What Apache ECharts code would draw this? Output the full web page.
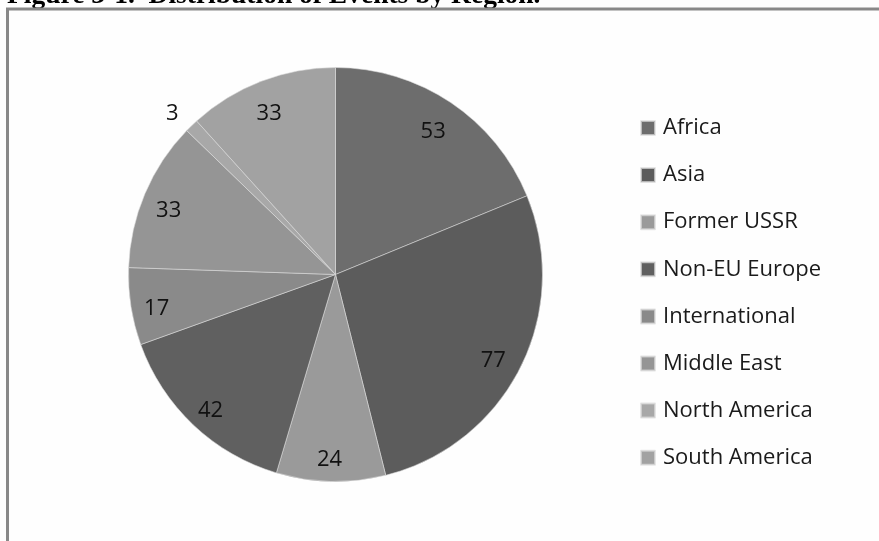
<!DOCTYPE html>
<html>
<head>
<meta charset="utf-8">
<script src="https://cdn.jsdelivr.net/npm/echarts@6/dist/echarts.min.js"></script>
<style>
html,body{margin:0;padding:0;background:#fefefe;}
#c{width:879px;height:541px;}
</style>
</head>
<body>
<div id="c"></div>
<script>
var categories = ['Africa','Asia','Former USSR','Non-EU Europe','International','Middle East','North America','South America'];
var values = [53, 77, 24, 42, 17, 33, 3, 33];
var colors = ['#6d6d6d','#5c5c5c','#9a9a9a','#606060','#8a8a8a','#959595','#a8a8a8','#a2a2a2'];
var titleText = 'Figure 3-1.  Distribution of Events by Region.';
var outsideLabelCats = ['North America'];

var chart = echarts.init(document.getElementById('c'), null, {renderer:'canvas'});
var cx = 335.5, cy = 274.5, R = 207;
var fontFam = '"Open Sans", "Noto Sans", sans-serif';

var mainData = categories.map(function(n,i){ return {name:n, value:values[i], itemStyle:{color:colors[i]}}; });
var insideData = categories.map(function(n,i){ return {name:n, value:values[i], label:{show: outsideLabelCats.indexOf(n) < 0}}; });
var outsideData = categories.map(function(n,i){ return {name:n, value:values[i], label:{show: outsideLabelCats.indexOf(n) >= 0}}; });

var labelStyle = {position:'inside', formatter:'{c}', color:'#111', fontSize:22, fontFamily:fontFam, offset:[-2,6]};

chart.setOption({
  backgroundColor:'#fefefe',
  animation:false,
  graphic:[
    {type:'text', x:7, y:10, silent:true,
     style:{text:titleText, font:'bold 27.5px "Liberation Serif", "Times New Roman", serif', fill:'#000', align:'left', verticalAlign:'bottom'}},
    {type:'rect', silent:true, shape:{x:7.5, y:9, width:1000, height:800},
     style:{fill:'none', stroke:'#888', lineWidth:3}}
  ],
  legend:{
    orient:'vertical', left:640, top:115, padding:0,
    data:categories,
    icon:'rect', itemWidth:14, itemHeight:14, itemGap:21.1,
    selectedMode:false,
    textStyle:{fontSize:22, lineHeight:26, color:'#1a1a1a', fontFamily:fontFam, padding:[0,0,0,3]}
  },
  series:[
    {type:'pie', center:[cx,cy], radius:[0,R], startAngle:90, clockwise:true,
     label:{show:false}, labelLine:{show:false}, silent:true,
     itemStyle:{borderColor:'rgba(220,220,220,0.7)', borderWidth:0.8},
     data:mainData},
    {type:'pie', center:[cx,cy], radius:[145,R], startAngle:90, clockwise:true,
     silent:true, legendHoverLink:false,
     itemStyle:{color:'rgba(0,0,0,0)', borderWidth:0},
     label:labelStyle, labelLine:{show:false},
     data:insideData},
    {type:'pie', center:[cx,cy], radius:[R,R+44], startAngle:90, clockwise:true,
     silent:true, legendHoverLink:false,
     itemStyle:{color:'rgba(0,0,0,0)', borderWidth:0},
     label:labelStyle, labelLine:{show:false},
     data:outsideData}
  ]
});
</script>
</body>
</html>
